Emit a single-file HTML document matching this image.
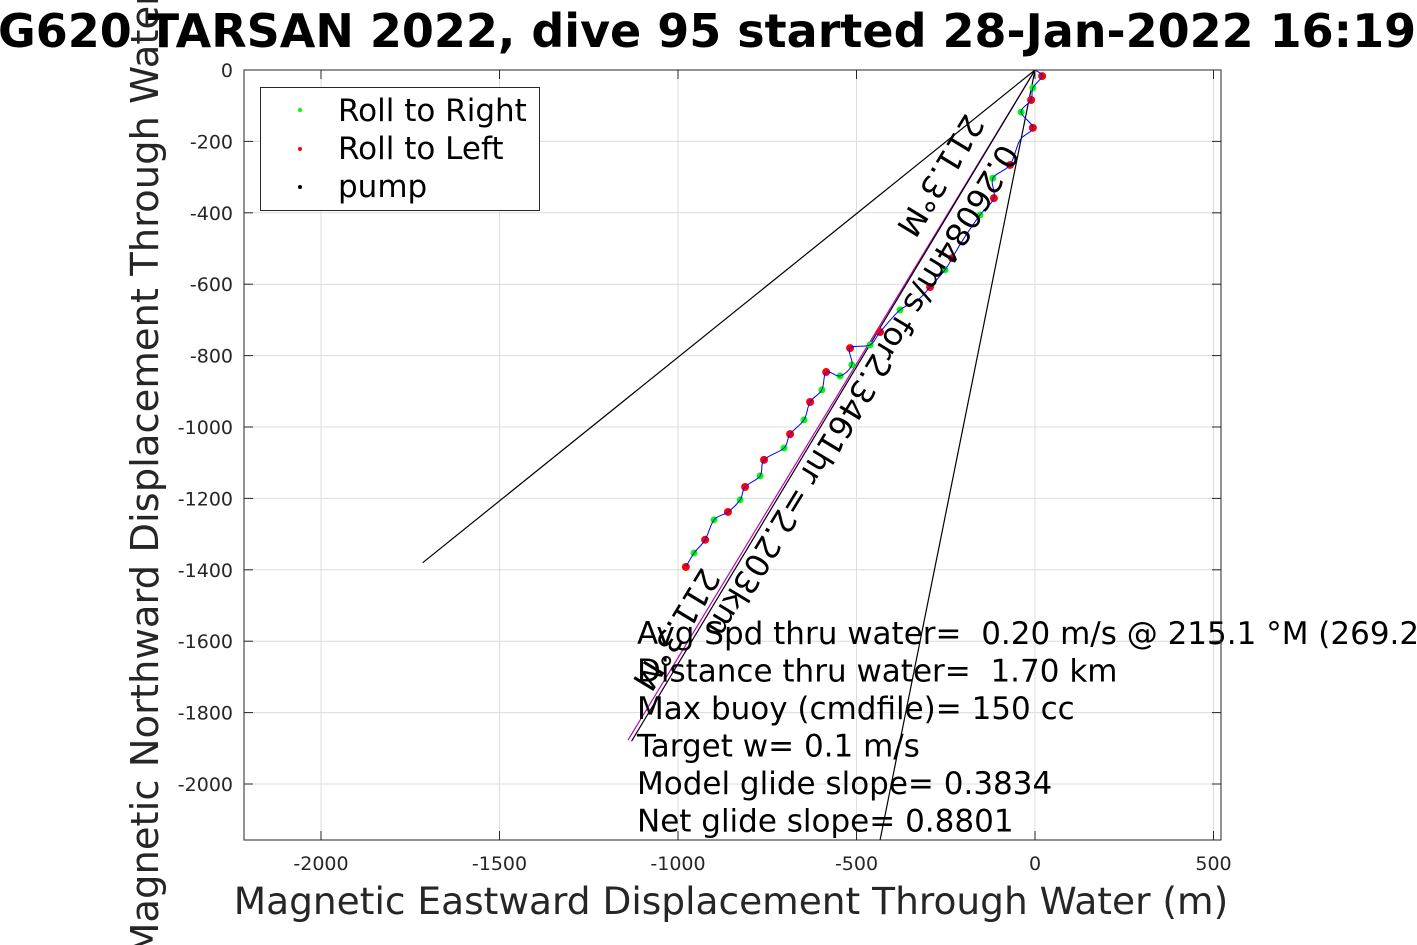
<!DOCTYPE html>
<html><head><meta charset="utf-8"><style>
html,body{margin:0;padding:0;background:#fff;overflow:hidden;}
svg{display:block;font-family:"DejaVu Sans","Liberation Sans",sans-serif;}
text{white-space:pre;}
</style></head><body>
<svg id="chart" width="1417" height="945" viewBox="0 0 1417 945" xmlns="http://www.w3.org/2000/svg">
<g id="grid"></g>
<g id="lines"></g>
<g id="track"></g>
<g id="ann"></g>
<rect x="244" y="70" width="977" height="770" fill="none" stroke="#262626" stroke-width="1"/>
<g id="ticks"></g>
<g>
<rect x="260.5" y="87.5" width="279" height="123" fill="#fff" stroke="#262626"/>
<circle cx="300" cy="110" r="2" fill="#00ff00"/>
<text x="338" y="121" font-size="31">Roll to Right</text>
<circle cx="300" cy="149" r="2" fill="#ff0000"/>
<text x="338" y="159" font-size="31">Roll to Left</text>
<circle cx="300" cy="187" r="2" fill="#000"/>
<text x="338" y="197" font-size="31">pump</text>
</g>
<text x="731" y="914" font-size="37.5" fill="#262626" text-anchor="middle">Magnetic Eastward Displacement Through Water (m)</text>
<text transform="translate(158,433) rotate(-90)" font-size="38.5" fill="#262626" text-anchor="middle">Magnetic Northward Displacement Through Water (m)</text>
<text x="-2" y="47" font-size="46" font-weight="bold">G620 TARSAN 2022, dive 95 started 28-Jan-2022 16:19</text>
</svg>
<script>
const xTicks=[-2000,-1500,-1000,-500,0,500];
const yTicks=[0,-200,-400,-600,-800,-1000,-1200,-1400,-1600,-1800,-2000];
const trackX=[0,20,-6,-11,-39,-6,-42,-70,-118,-115,-154,-202,-232,-252,-294,-328,-378,-434,-462,-518,-513,-546,-585,-597,-630,-647,-686,-703,-759,-770,-812,-826,-860,-899,-924,-955,-978];
const trackY=[0,-17,-50,-84,-118,-162,-196,-266,-303,-359,-406,-476,-527,-560,-608,-644,-672,-734,-770,-779,-826,-857,-846,-896,-930,-980,-1020,-1059,-1092,-1137,-1168,-1204,-1238,-1260,-1316,-1353,-1392];
const rollLeftIdx=[1,3,5,7,9,12,14,17,19,22,24,26,28,30,32,34,36];
const rollRightIdx=[2,4,8,10,13,16,18,20,21,23,25,27,29,31,33,35];
const lineEndX=[-1715,-434,-1140,-1130];
const lineEndY=[-1380,-2157,-1877,-1880];
const lineColors=["#000","#000","#c000c0","#000"];
const textLines=["Avg Spd thru water=  0.20 m/s @ 215.1 °M (269.2","Distance thru water=  1.70 km","Max buoy (cmdfile)= 150 cc","Target w= 0.1 m/s","Model glide slope= 0.3834","Net glide slope= 0.8801"];
const X0=1035,Y0=70,S=0.357;
const sx=v=>X0+v*S, sy=v=>Y0-v*S;
const NS="http://www.w3.org/2000/svg";
function mk(t,a,p){const e=document.createElementNS(NS,t);for(const k in a)e.setAttribute(k,a[k]);p.appendChild(e);return e;}
const grid=document.getElementById('grid'),ticks=document.getElementById('ticks');
xTicks.forEach(v=>{const x=sx(v);
 const g=mk('line',{x1:x,x2:x,y1:70,y2:840,stroke:'#dcdcdc'},grid);
 
 
 const t1=mk('line',{x1:x,x2:x,y1:840,y2:831,stroke:'#262626'},ticks);
 
 
 const t2=mk('line',{x1:x,x2:x,y1:70,y2:79,stroke:'#262626'},ticks);
 
 
 const l=mk('text',{x:x,y:870,'font-size':19,fill:'#262626','text-anchor':'middle'},ticks);l.textContent=v;
 
 
});
yTicks.forEach(v=>{const y=sy(v);
 const g=mk('line',{x1:244,x2:1221,y1:y,y2:y,stroke:'#dcdcdc'},grid);
 
 
 const t1=mk('line',{x1:244,x2:253,y1:y,y2:y,stroke:'#262626'},ticks);
 
 
 const t2=mk('line',{x1:1221,x2:1212,y1:y,y2:y,stroke:'#262626'},ticks);
 
 
 const l=mk('text',{x:233,y:y+7,'font-size':19,fill:'#262626','text-anchor':'end'},ticks);l.textContent=v;
 
 
});
const lines=document.getElementById('lines');
lineEndX.forEach((v,i)=>{let x2=sx(v),y2=sy(lineEndY[i]);
 if(y2>840){const f=(840-Y0)/(y2-Y0);x2=X0+(x2-X0)*f;y2=840;}
 const l=mk('line',{x1:X0,y1:Y0,x2:x2,y2:y2,stroke:lineColors[i],'stroke-width':1.2},lines);
 
 
});
const track=document.getElementById('track');
rollRightIdx.forEach(i=>{const c=mk('circle',{cx:sx(trackX[i]),cy:sy(trackY[i]),r:3.5,fill:'#00ff00'},track);
 
 });
rollLeftIdx.forEach(i=>{const c=mk('circle',{cx:sx(trackX[i]),cy:sy(trackY[i]),r:4,fill:'#ff0000'},track);
 
 });
const P=trackX.map((v,i)=>[sx(v),sy(trackY[i])]);
let d='M'+P[0][0]+','+P[0][1];
for(let i=0;i<P.length-1;i++){
 const p0=P[Math.max(i-1,0)],p1=P[i],p2=P[i+1],p3=P[Math.min(i+2,P.length-1)];
 const c1=[p1[0]+(p2[0]-p0[0])/6,p1[1]+(p2[1]-p0[1])/6];
 const c2=[p2[0]-(p3[0]-p1[0])/6,p2[1]-(p3[1]-p1[1])/6];
 d+=' C'+c1[0]+','+c1[1]+' '+c2[0]+','+c2[1]+' '+p2[0]+','+p2[1];
}
const p=mk('path',{d:d,fill:'none',stroke:'#0000ff','stroke-width':1},track);


const ann=document.getElementById('ann');
const r1=mk('text',{transform:'translate(1001,142) rotate(121.3)','font-size':32},ann);r1.textContent='0.26084m/s for2.3461hr =2.203km';


const r2=mk('text',{transform:'translate(966,112) rotate(121.3)','font-size':32},ann);r2.textContent='211.3°M';


const r3=mk('text',{transform:'translate(702,566) rotate(121.3)','font-size':32},ann);r3.textContent='211.3°M';


textLines.forEach((s,i)=>{const t=mk('text',{x:637,y:644+i*37.5,'font-size':31},ann);t.textContent=s;
 
 });
</script>
</body></html>
